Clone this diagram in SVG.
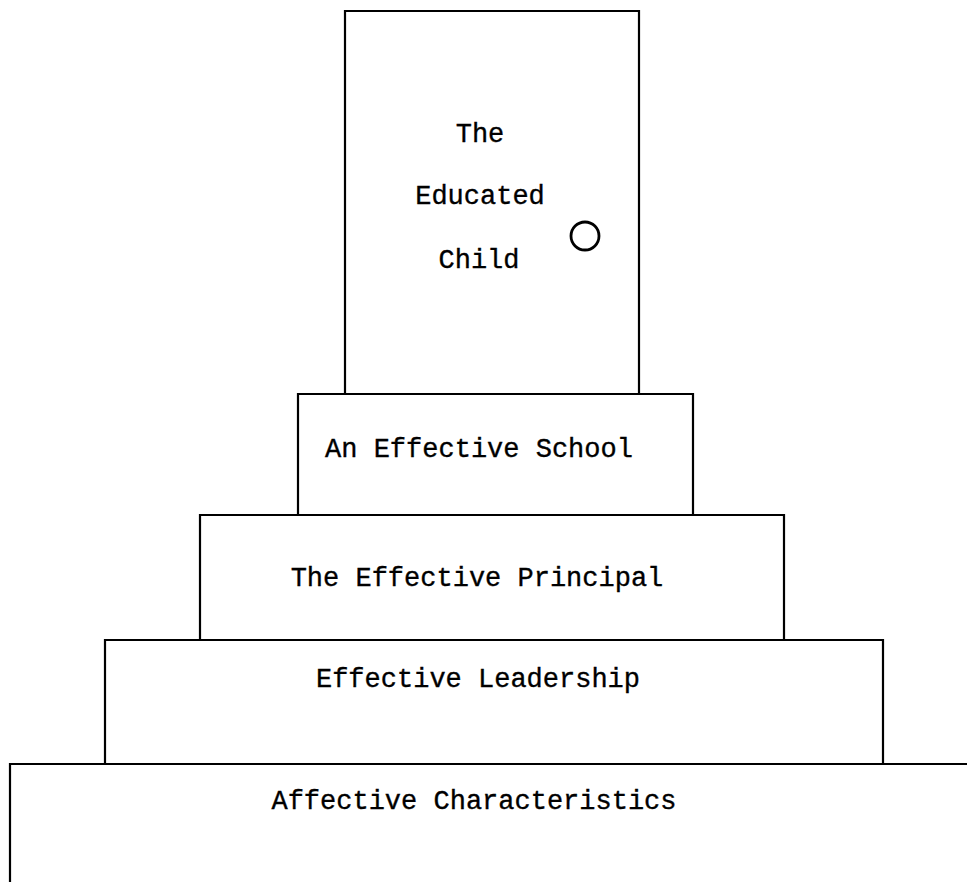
<svg xmlns="http://www.w3.org/2000/svg" width="967" height="882" viewBox="0 0 967 882">
  <style>
    .edge { fill: none; stroke: #000; stroke-width: 2.2; stroke-linecap: square; }
    .label { font-family: "Liberation Mono", "Courier New", monospace; font-size: 27px; fill: #000; stroke: #000; stroke-width: 0.35; }
  </style>
  <rect width="967" height="882" fill="#fff"/>

  <!-- top block: a door with a knob -->
  <g id="educated-child">
    <path class="edge" d="M345,394 V11 H639 V394"/>
    <circle cx="585" cy="236" r="14" fill="none" stroke="#000" stroke-width="2.8"/>
    <text class="label" x="480" y="142" text-anchor="middle">The</text>
    <text class="label" x="480" y="204" text-anchor="middle">Educated</text>
    <text class="label" x="479" y="268" text-anchor="middle">Child</text>
  </g>

  <g id="effective-school">
    <path class="edge" d="M298,514 V394 H693 V514"/>
    <text class="label" x="479" y="457" text-anchor="middle">An Effective School</text>
  </g>

  <g id="effective-principal">
    <path class="edge" d="M200,639 V515 H784 V639"/>
    <text class="label" x="477" y="586" text-anchor="middle">The Effective Principal</text>
  </g>

  <g id="effective-leadership">
    <path class="edge" d="M105,763 V640 H883 V763"/>
    <text class="label" x="478" y="687" text-anchor="middle">Effective Leadership</text>
  </g>

  <g id="affective-characteristics">
    <path class="edge" d="M10,882 V764 H967"/>
    <text class="label" x="474" y="809" text-anchor="middle">Affective Characteristics</text>
  </g>
</svg>
